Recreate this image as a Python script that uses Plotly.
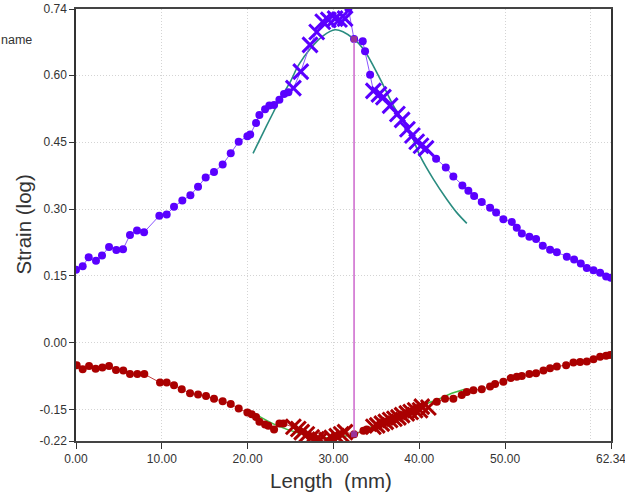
import plotly.graph_objects as go

# ---------------- data ----------------
upper_x = [0.00, 0.78, 1.48, 2.33, 3.03, 3.85, 4.70, 5.48, 6.29, 7.11, 7.93, 9.71, 10.57, 11.42,
           12.39, 13.33, 14.22, 15.11, 16.08, 17.09, 18.03, 18.96, 19.97, 20.30, 20.98, 21.37,
           22.03, 22.53, 23.08, 23.70, 24.24, 24.75, 25.33, 26.19, 27.27, 28.05, 28.75, 29.40,
           30.19, 30.70, 31.35, 31.74, 32.40, 33.41, 33.68, 34.27, 34.65, 35.30, 35.82, 36.60,
           37.45, 38.00, 38.62, 39.20, 39.70, 40.20, 40.79, 41.96, 43.09, 43.97, 45.02, 45.72,
           46.39, 47.28, 48.25, 48.95, 49.80, 50.78, 51.36, 51.95, 52.83, 53.61, 54.39, 55.24,
           56.03, 57.19, 58.04, 58.82, 59.52, 60.30, 61.07, 61.77, 62.32]
upper_y = [0.164, 0.172, 0.192, 0.184, 0.196, 0.215, 0.208, 0.210, 0.242, 0.252, 0.248, 0.285, 0.288, 0.305,
           0.319, 0.331, 0.350, 0.371, 0.383, 0.400, 0.425, 0.451, 0.463, 0.467, 0.493, 0.511,
           0.524, 0.532, 0.533, 0.545, 0.558, 0.562, 0.571, 0.608, 0.668, 0.697, 0.720, 0.724,
           0.727, 0.725, 0.727, 0.749, 0.681, 0.676, 0.654, 0.601, 0.565, 0.557, 0.551, 0.532,
           0.513, 0.500, 0.479, 0.465, 0.451, 0.442, 0.436, 0.413, 0.393, 0.373, 0.353, 0.341,
           0.329, 0.316, 0.303, 0.292, 0.277, 0.271, 0.258, 0.245, 0.238, 0.233, 0.218, 0.209,
           0.203, 0.193, 0.187, 0.178, 0.168, 0.163, 0.157, 0.149, 0.146]
upper_cross = [0]*32 + [1]*9 + [0]*5 + [1]*11 + [0]*26

lower_x = [0.08, 0.78, 1.52, 2.29, 3.07, 3.85, 4.66, 5.51, 6.29, 7.15, 7.96, 9.79, 10.57, 11.42,
           12.32, 13.29, 14.22, 15.15, 16.08, 17.09, 18.03, 18.96, 19.97, 20.47, 20.98, 21.37,
           22.03, 22.41, 23.08, 23.70, 24.17, 25.33, 25.90, 26.30, 26.90, 27.47, 28.00, 28.44,
           29.20, 29.80, 30.38, 30.90, 31.35, 32.40, 33.49, 33.88, 34.65, 35.10, 35.63, 36.10,
           36.60, 37.10, 37.57, 38.00, 38.54, 39.00, 39.51, 40.09, 40.29, 41.06, 42.04, 43.00,
           43.97, 44.95, 45.54, 46.31, 47.28, 48.25, 48.83, 49.80, 50.66, 51.36, 51.95, 52.83,
           53.61, 54.47, 55.24, 56.03, 57.11, 57.96, 58.74, 59.52, 60.30, 61.07, 61.77, 62.24]
lower_y = [-0.050, -0.059, -0.052, -0.058, -0.055, -0.052, -0.061, -0.062, -0.070, -0.070, -0.070, -0.089, -0.089, -0.095,
           -0.104, -0.113, -0.116, -0.119, -0.125, -0.131, -0.137, -0.147, -0.156, -0.160, -0.166, -0.177,
           -0.183, -0.186, -0.194, -0.181, -0.181, -0.188, -0.193, -0.200, -0.205, -0.212, -0.216, -0.217,
           -0.218, -0.213, -0.209, -0.205, -0.200, -0.205, -0.197, -0.194, -0.188, -0.185, -0.181, -0.177,
           -0.173, -0.170, -0.167, -0.162, -0.158, -0.155, -0.151, -0.151, -0.143, -0.145, -0.132, -0.125,
           -0.125, -0.117, -0.110, -0.106, -0.104, -0.098, -0.092, -0.087, -0.079, -0.076, -0.074, -0.070,
           -0.068, -0.062, -0.057, -0.053, -0.050, -0.044, -0.043, -0.042, -0.037, -0.031, -0.029, -0.027]
lower_cross = [0]*31 + [1]*12 + [0]*3 + [1]*14 + [0]*26

fit_up_x = [20.63, 21.83, 23.00, 23.78, 24.94, 25.91, 27.27, 28.83, 30.19, 31.16, 32.33, 33.49,
            35.43, 36.98, 38.93, 40.09, 41.64, 43.20, 44.37, 45.54]
fit_up_y = [0.425, 0.472, 0.517, 0.547, 0.584, 0.622, 0.659, 0.689, 0.702, 0.697, 0.682, 0.659,
            0.592, 0.532, 0.472, 0.419, 0.367, 0.322, 0.292, 0.268]

fit_lo_x = [20.66, 23.39, 26.10, 28.44, 29.60, 31.00, 32.40, 33.49, 35.80, 38.15, 40.00, 42.04, 43.97, 45.30]
fit_lo_y = [-0.157, -0.185, -0.203, -0.212, -0.213, -0.210, -0.205, -0.196, -0.177, -0.155, -0.141, -0.128, -0.112, -0.104]

cursor_x = [32.40, 32.40]
cursor_y = [-0.205, 0.681]

x_tickvals = [0, 10, 20, 30, 40, 50, 62.34]
x_ticktext = ["0.00", "10.00", "20.00", "30.00", "40.00", "50.00", "62.34"]
y_tickvals = [-0.22, -0.15, 0.0, 0.15, 0.30, 0.45, 0.60, 0.7485]
y_ticktext = ["-0.22", "-0.15", "0.00", "0.15", "0.30", "0.45", "0.60", "0.74"]

# ---------------- figure ----------------
PURPLE = "#5a00ff"
RED = "#aa0000"
TXT = "#333333"

def sym(flags):
    return ["x-thin" if f else "circle" for f in flags]

def sz(flags):
    return [15 if f else 8 for f in flags]

def lw(flags):
    return [3 if f else 0 for f in flags]

fig = go.Figure()

fig.add_trace(go.Scatter(x=fit_up_x, y=fit_up_y, mode="lines", line=dict(color="#2a8c80", width=1.6, shape="spline"),
                         showlegend=False, hoverinfo="skip"))
fig.add_trace(go.Scatter(x=fit_lo_x, y=fit_lo_y, mode="lines", line=dict(color="#44bb44", width=1.6, shape="spline"),
                         showlegend=False, hoverinfo="skip"))

fig.add_trace(go.Scatter(x=upper_x, y=upper_y, mode="lines+markers", opacity=1,
                         line=dict(color="#8a55ff", width=1),
                         marker=dict(color=PURPLE, opacity=1, symbol=sym(upper_cross), size=sz(upper_cross),
                                     line=dict(color=PURPLE, width=lw(upper_cross))),
                         showlegend=False))
fig.add_trace(go.Scatter(x=lower_x, y=lower_y, mode="lines+markers", opacity=1,
                         line=dict(color="#c04040", width=1),
                         marker=dict(color=RED, opacity=1, symbol=sym(lower_cross), size=sz(lower_cross),
                                     line=dict(color=RED, width=lw(lower_cross))),
                         showlegend=False))

fig.add_trace(go.Scatter(x=cursor_x, y=cursor_y, mode="lines+markers",
                         line=dict(color="#cc66cc", width=1.5),
                         marker=dict(color="#993399", symbol="square", size=6),
                         showlegend=False))

# texts outside the plot area
fig.add_annotation(text="name", xref="paper", yref="paper", x=-0.0785, y=0.928,
                   xanchor="right", yanchor="middle", showarrow=False,
                   font=dict(size=12.5, color=TXT, family="Arial"))
fig.add_annotation(text="Length  (mm)", xref="paper", yref="paper", x=0.4766, y=-0.0903,
                   xanchor="center", yanchor="middle", showarrow=False,
                   font=dict(size=20.5, color=TXT, family="Arial"))
fig.add_annotation(text="Strain (log)", xref="paper", yref="paper", x=-0.100, y=0.5,
                   xanchor="center", yanchor="middle", showarrow=False, textangle=-90,
                   font=dict(size=20.5, color=TXT, family="Arial"))

fig.update_layout(
    width=625, height=497,
    margin=dict(l=76, r=14, t=9, b=56, autoexpand=False),
    plot_bgcolor="white", paper_bgcolor="white",
    font=dict(family="Arial", color=TXT, size=12),
    xaxis=dict(range=[0, 62.34], tickmode="array", tickvals=x_tickvals, ticktext=x_ticktext,
               automargin=False, ticklabeloverflow="allow",
               showgrid=False, zeroline=False, ticks="outside", ticklen=6, tickcolor=TXT,
               showline=True, linecolor="#444444", linewidth=2, mirror=True,
               tickfont=dict(size=12, color=TXT),
               minor=dict(tick0=0, dtick=10, showgrid=True, gridcolor="#d4d4d4", griddash="1px,2px", gridwidth=1, ticks="")),
    yaxis=dict(range=[-0.22, 0.7485], tickmode="array", tickvals=y_tickvals, ticktext=y_ticktext,
               automargin=False, ticklabeloverflow="allow",
               showgrid=False, zeroline=False, ticks="outside", ticklen=5, tickcolor=TXT,
               showline=True, linecolor=TXT, linewidth=1.5, mirror=True,
               tickfont=dict(size=12, color=TXT),
               minor=dict(tick0=0, dtick=0.15, showgrid=True, gridcolor="#d4d4d4", griddash="1px,2px", gridwidth=1, ticks="")),
)

fig.write_html("out.html", config={"displayModeBar": False},
               post_script="document.body.style.margin='0';document.body.style.overflow='hidden';")
